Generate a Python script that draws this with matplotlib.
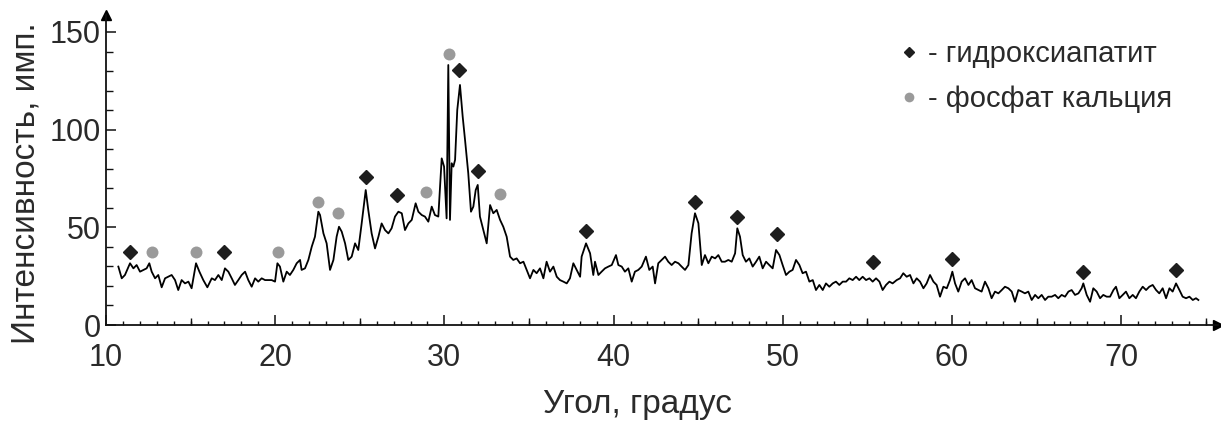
import matplotlib
matplotlib.use("Agg")
import matplotlib.pyplot as plt
from matplotlib.lines import Line2D
from matplotlib.ticker import MultipleLocator, FixedLocator

plt.rcParams['font.family'] = ['Liberation Sans', 'DejaVu Sans']

# ---- data ----
angle = [10.73, 10.93, 11.12, 11.42, 11.62, 11.81, 12.01, 12.21, 12.40, 12.56,
         12.70, 12.90, 13.09, 13.29, 13.49, 13.68, 13.88, 14.08, 14.27, 14.47,
         14.67, 14.87, 15.06, 15.32, 15.52, 15.75, 15.99, 16.25, 16.44, 16.64,
         16.84, 17.03, 17.23, 17.43, 17.62, 17.82, 18.02, 18.22, 18.41, 18.61,
         18.81, 19.00, 19.20, 19.40, 19.59, 19.79, 19.99, 20.13, 20.28, 20.48,
         20.68, 20.87, 21.07, 21.27, 21.47, 21.56, 21.76, 21.96, 22.16, 22.35,
         22.55, 22.65, 22.85, 23.04, 23.24, 23.44, 23.63, 23.77, 23.93, 24.13,
         24.32, 24.52, 24.72, 24.91, 25.11, 25.35, 25.50, 25.70, 25.90, 26.10,
         26.29, 26.49, 26.69, 26.88, 27.08, 27.28, 27.48, 27.67, 27.87, 28.07,
         28.30, 28.46, 28.66, 28.85, 29.05, 29.25, 29.44, 29.64, 29.84, 29.98,
         30.13, 30.23, 30.33, 30.43, 30.53, 30.63, 30.76, 30.92, 31.08, 31.22,
         31.41, 31.57, 31.71, 31.85, 31.97, 32.10, 32.30, 32.50, 32.70, 32.89,
         33.09, 33.29, 33.48, 33.68, 33.88, 34.07, 34.27, 34.47, 34.67, 34.86,
         35.06, 35.26, 35.45, 35.65, 35.85, 36.04, 36.24, 36.44, 36.64, 36.83,
         37.03, 37.23, 37.42, 37.62, 37.82, 38.02, 38.11, 38.37, 38.61, 38.80,
         38.90, 39.10, 39.29, 39.49, 39.69, 39.89, 40.14, 40.28, 40.48, 40.67,
         40.87, 41.07, 41.26, 41.46, 41.66, 41.91, 42.11, 42.31, 42.45, 42.64,
         42.84, 43.04, 43.23, 43.43, 43.63, 43.83, 44.02, 44.22, 44.42, 44.61,
         44.81, 45.01, 45.21, 45.40, 45.60, 45.80, 46.00, 46.19, 46.39, 46.58,
         46.78, 46.98, 47.18, 47.31, 47.47, 47.63, 47.82, 48.02, 48.22, 48.42,
         48.61, 48.81, 49.01, 49.20, 49.40, 49.60, 49.80, 49.99, 50.19, 50.39,
         50.58, 50.78, 50.98, 51.17, 51.37, 51.57, 51.77, 51.96, 52.16, 52.36,
         52.55, 52.75, 52.95, 53.14, 53.34, 53.54, 53.74, 53.93, 54.13, 54.33,
         54.52, 54.72, 54.92, 55.12, 55.31, 55.51, 55.71, 55.90, 56.10, 56.30,
         56.49, 56.73, 56.93, 57.12, 57.32, 57.52, 57.72, 57.91, 58.11, 58.31,
         58.50, 58.70, 58.90, 59.09, 59.29, 59.49, 59.69, 59.88, 60.02, 60.18,
         60.37, 60.57, 60.77, 60.97, 61.16, 61.36, 61.56, 61.75, 61.95, 62.15,
         62.34, 62.54, 62.74, 62.94, 63.13, 63.33, 63.53, 63.72, 63.92, 64.12,
         64.31, 64.51, 64.71, 64.91, 65.10, 65.30, 65.50, 65.69, 65.89, 66.09,
         66.28, 66.48, 66.68, 66.88, 67.07, 67.27, 67.47, 67.66, 67.76, 67.96,
         68.16, 68.35, 68.55, 68.75, 68.94, 69.14, 69.34, 69.54, 69.69, 69.89,
         70.09, 70.28, 70.48, 70.68, 70.87, 71.07, 71.27, 71.47, 71.66, 71.86,
         72.06, 72.25, 72.45, 72.65, 72.85, 73.04, 73.24, 73.44, 73.63, 73.83,
         74.03, 74.23, 74.42, 74.56]

intensity = [29.9, 23.9, 25.6, 31.6, 29.0, 30.7, 27.3, 28.2, 29.0, 31.6,
             27.3, 23.9, 25.6, 19.3, 23.9, 24.7, 25.6, 23.0, 17.9, 23.0,
             21.3, 22.2, 18.8, 31.6, 27.3, 23.0, 19.3, 23.9, 23.0, 25.6,
             23.0, 29.0, 27.3, 23.9, 20.5, 23.0, 25.6, 27.3, 23.0, 19.6,
             23.9, 22.2, 23.9, 23.0, 23.0, 23.0, 22.2, 31.6, 29.9, 22.2,
             27.3, 25.6, 28.2, 31.6, 33.3, 28.2, 29.0, 33.3, 40.1, 45.2,
             58.0, 56.3, 46.9, 41.8, 28.2, 33.3, 45.2, 50.3, 47.8, 41.8,
             33.3, 35.0, 41.8, 38.4, 52.0, 69.1, 58.9, 46.9, 39.2, 45.2,
             52.0, 48.6, 46.9, 49.5, 55.5, 58.0, 57.2, 48.6, 52.0, 53.8,
             62.3, 58.0, 56.3, 55.5, 52.9, 60.6, 56.3, 55.5, 85.3, 81.1,
             54.6, 133.1, 53.8, 82.8, 81.1, 84.5, 110.1, 122.9, 106.7, 94.7,
             77.7, 58.0, 60.6, 69.1, 71.7, 55.5, 48.6, 41.8, 61.4, 57.2,
             58.9, 53.8, 50.3, 45.2, 35.0, 33.3, 34.1, 31.6, 32.4, 28.2,
             23.9, 28.2, 26.5, 29.0, 23.9, 32.4, 27.3, 29.9, 24.7, 23.0,
             22.2, 21.3, 23.9, 31.6, 28.2, 24.7, 35.0, 41.8, 36.7, 25.6,
             32.4, 25.6, 27.3, 29.0, 29.9, 30.7, 35.8, 30.7, 29.9, 27.3,
             29.0, 22.2, 27.3, 28.2, 29.9, 35.0, 28.2, 29.9, 21.3, 31.6,
             33.3, 35.0, 32.4, 30.7, 32.4, 31.6, 29.9, 28.2, 30.7, 46.9,
             57.2, 52.1, 30.7, 35.8, 31.6, 35.0, 34.1, 35.8, 32.4, 32.4,
             33.3, 32.4, 36.7, 49.5, 45.2, 35.8, 32.4, 34.1, 29.9, 32.4,
             35.0, 29.0, 32.4, 30.7, 29.0, 38.4, 35.8, 30.7, 25.6, 27.3,
             28.2, 33.3, 30.7, 26.5, 27.3, 22.2, 23.0, 17.9, 20.5, 17.9,
             21.3, 19.6, 21.3, 22.2, 20.5, 22.2, 22.2, 23.9, 23.0, 24.7,
             23.0, 24.7, 23.0, 23.9, 22.2, 23.9, 22.2, 17.9, 20.5, 22.2,
             21.3, 23.0, 23.9, 26.5, 24.7, 25.6, 21.3, 23.9, 22.2, 18.8,
             21.3, 25.6, 22.2, 20.5, 14.5, 19.6, 18.8, 23.0, 27.3, 21.3,
             17.1, 22.2, 23.9, 20.5, 23.0, 18.8, 17.9, 17.1, 22.2, 18.8,
             13.7, 17.1, 16.2, 17.9, 19.6, 18.8, 17.1, 11.9, 17.9, 17.1,
             16.2, 17.1, 12.8, 15.4, 13.7, 15.4, 12.8, 14.5, 14.5, 15.4,
             13.7, 15.4, 14.5, 17.1, 17.9, 15.4, 16.2, 18.8, 21.3, 15.4,
             11.9, 18.8, 17.1, 13.7, 15.4, 14.5, 14.5, 17.9, 19.6, 13.7,
             15.4, 17.1, 13.7, 15.4, 13.7, 17.1, 19.6, 17.9, 19.6, 20.5,
             17.9, 16.2, 18.8, 13.7, 18.8, 17.1, 21.3, 17.9, 14.5, 13.7,
             14.5, 12.8, 13.7, 12.8]

# phase markers: hydroxyapatite (diamonds) and calcium phosphate (circles)
hap_angle = [11.42, 16.97, 25.35, 27.22, 30.88, 32.00, 38.37, 44.81, 47.31,
             49.64, 55.31, 59.98, 67.76, 73.22]
hap_level = [37.2, 37.2, 75.9, 66.6, 130.6, 78.9, 48.3, 63.1, 55.5,
             46.4, 32.4, 33.8, 27.0, 28.2]
cap_angle = [12.74, 15.32, 20.18, 22.51, 23.73, 28.89, 30.29, 33.29]
cap_level = [37.5, 37.2, 37.5, 63.1, 57.2, 68.3, 138.6, 67.1]

x_ticks = [10, 20, 30, 40, 50, 60, 70]
x_mid_ticks = [15, 25, 35, 45, 55, 65, 75]
y_ticks = [0, 50, 100, 150]
legend_labels = ['- гидроксиапатит', '- фосфат кальция']
x_label = 'Угол, градус'
y_label = 'Интенсивность, имп.'

TEXT = '#2a2a2a'
DIAMOND = '#1e1e1e'
CIRCLE = '#9a9a9a'

fig = plt.figure(figsize=(12.21, 4.23), dpi=100)
W, H = 1221, 423
ax = fig.add_axes([106 / W, 98 / H, (1218 - 106) / W, (325 - 15) / H])

ax.plot(angle, intensity, color='black', lw=1.3, zorder=3)
ax.plot(hap_angle, hap_level, ls='none', marker='D', ms=7, color=DIAMOND,
        zorder=4, clip_on=False)
ax.plot(cap_angle, cap_level, ls='none', marker='o', ms=8.6, color=CIRCLE,
        markeredgewidth=0, zorder=4, clip_on=False)

ax.set_xlim(10, 75.72)
ax.set_ylim(0, 158.7)

for s in ('top', 'right'):
    ax.spines[s].set_visible(False)
for s in ('left', 'bottom'):
    ax.spines[s].set_linewidth(1.3)
    ax.spines[s].set_color('#111111')

ax.xaxis.set_major_locator(FixedLocator(x_ticks))
ax.xaxis.set_minor_locator(MultipleLocator(1))
ax.yaxis.set_major_locator(FixedLocator(y_ticks))
ax.yaxis.set_minor_locator(MultipleLocator(10))
ax.tick_params(axis='x', which='major', direction='in', length=7.5, width=1.1,
               pad=13, labelsize=22, labelcolor=TEXT, color='#111111')
ax.tick_params(axis='x', which='minor', direction='in', length=3, width=1.0,
               color='#111111')
ax.tick_params(axis='y', which='major', direction='in', length=7.5, width=1.1,
               pad=4, labelsize=22, labelcolor=TEXT, color='#111111')
ax.tick_params(axis='y', which='minor', direction='in', length=5, width=1.0,
               color='#111111')

sec = ax.secondary_xaxis('bottom')
sec.set_xticks(x_mid_ticks)
sec.tick_params(direction='in', length=5.2, width=1.0, labelbottom=False,
                color='#111111')
sec.spines['bottom'].set_visible(False)

# arrow heads at the ends of the axes
ax.plot([1], [0], marker='>', ms=7, color='black', transform=ax.transAxes,
        clip_on=False)
ax.plot([0], [1], marker='^', ms=7, color='black', transform=ax.transAxes,
        clip_on=False)

ax.set_xlabel(x_label, fontsize=24, color=TEXT)
ax.xaxis.set_label_coords(0.478, -0.206)
ax.set_ylabel(y_label, fontsize=24, color=TEXT)
ax.yaxis.set_label_coords(-0.058, 0.456)

handles = [Line2D([], [], ls='none', marker='D', ms=5, color=DIAMOND),
           Line2D([], [], ls='none', marker='o', ms=7, color=CIRCLE,
                  markeredgewidth=0)]
leg = fig.legend(handles, legend_labels, loc='upper left',
                 bbox_to_anchor=(900 / W, 1 - 40 / H), frameon=False,
                 fontsize=21, handlelength=0.6, handletextpad=0.35,
                 labelspacing=0.58, borderpad=0, borderaxespad=0)
for t in leg.get_texts():
    t.set_color(TEXT)

fig.savefig('out.png', dpi=100)
